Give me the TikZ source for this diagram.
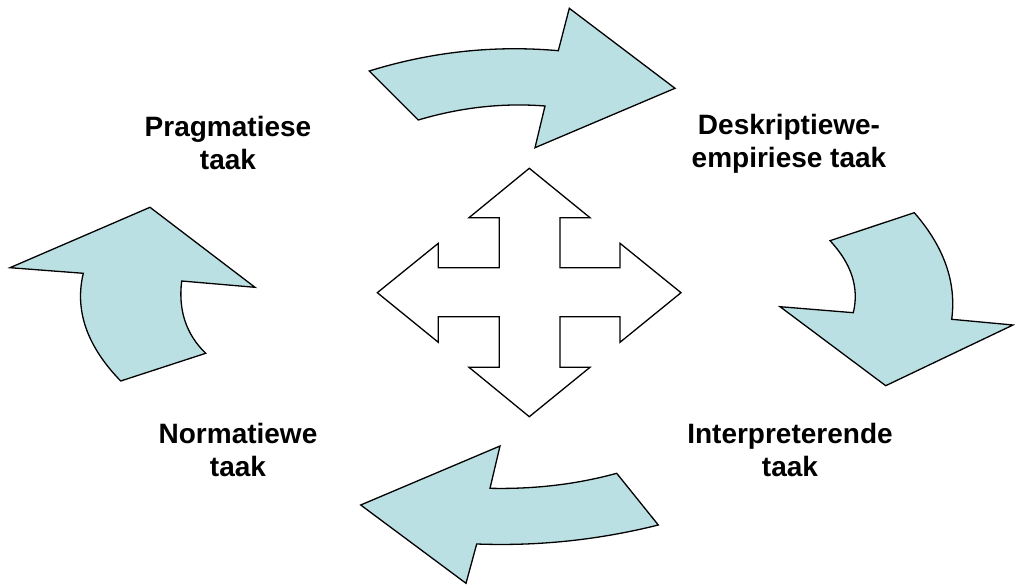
\documentclass[tikz,border=0pt]{standalone}
\usepackage{fontspec}
\setmainfont{Liberation Sans}
\definecolor{arrowfill}{RGB}{187,224,227}
\begin{document}
\begin{tikzpicture}[x=1pt,y=-1pt,
  bigarrow/.style={draw=black,fill=arrowfill,line width=1.3pt,line join=miter},
  cross/.style={draw=black,fill=white,line width=1.3pt,line join=miter},
  lbl/.style={font=\fontsize{28}{33}\selectfont\bfseries,align=center,inner sep=0pt,anchor=base}]
\useasboundingbox (0,0) rectangle (1015,585);
% top arrow
\draw[bigarrow] (369.3,71) .. controls (431.2,51.8) and (494.2,45.0) .. (558.3,50.7) -- (569.3,8.3) -- (675,88.3)
  -- (535,147.7) -- (545,106) .. controls (503.2,102.7) and (461.0,107.3) .. (418.3,120) -- cycle;
% right arrow
\draw[bigarrow] (830,240.7) -- (914.3,212.7) .. controls (944.1,246.9) and (956.6,282.4) .. (951.7,319.3) -- (1013,325)
  -- (885.7,385.7) -- (780,306.7) -- (853.3,312.7) .. controls (859.3,287.8) and (851.6,263.8) .. cycle;
% bottom arrow
\draw[bigarrow] (616.7,473.3) -- (658.3,525) .. controls (598.4,540) and (537.9,546.3) .. (476.7,544) -- (466,583.3)
  -- (360.7,505) -- (500,446) -- (490,488.3) .. controls (534.4,489.3) and (576.7,484.3) .. cycle;
% left arrow
\draw[bigarrow] (120.7,381) -- (205.7,353.3) .. controls (186.1,334.3) and (178.1,310.2) .. (181.7,281) -- (255,287.3)
  -- (150,207.3) -- (10,267.7) -- (83.3,273.3) .. controls (74.4,310.3) and (86.9,346.2) .. cycle;
% central four-way arrow
\draw[cross] (529.3,168.3) -- (590,217.7) -- (560,217.7) -- (560,267.7) -- (620,267.7) -- (620,243.3)
  -- (681,292.7) -- (620,342.3) -- (620,316.7) -- (560,316.7) -- (560,367.3) -- (590,367.3)
  -- (529.3,416.7) -- (469,367.3) -- (499.3,367.3) -- (499.3,316.7) -- (438.3,316.7) -- (438.3,342.3)
  -- (377.3,292.7) -- (438.3,243.3) -- (438.3,267.7) -- (499.3,267.7) -- (499.3,217.7) -- (469,217.7) -- cycle;
% labels
\node[lbl] (prag) at (228,170) {Pragmatiese\\taak};
\node[lbl] (desk) at (789,168) {Deskriptiewe-\\empiriese taak};
\node[lbl] (norm) at (238,476) {Normatiewe\\taak};
\node[lbl] (inter) at (790,476) {Interpreterende\\taak};
\end{tikzpicture}
\end{document}
